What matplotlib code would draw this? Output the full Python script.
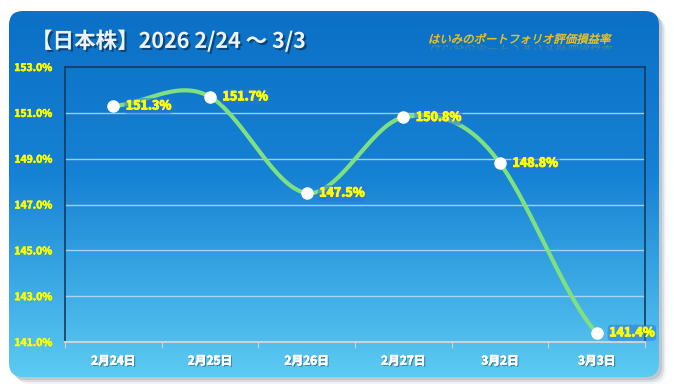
import numpy as np
import matplotlib
matplotlib.use("Agg")
import matplotlib.pyplot as plt
from matplotlib.patches import FancyBboxPatch, PathPatch, Rectangle
from matplotlib.colors import LinearSegmentedColormap
from matplotlib.textpath import TextPath
from matplotlib.font_manager import FontProperties
from matplotlib.transforms import Affine2D
import matplotlib.patheffects as pe

plt.rcParams['font.family'] = ['Noto Sans CJK JP', 'DejaVu Sans']

# data
dates = ["2月24日", "2月25日", "2月26日", "2月27日", "3月2日", "3月3日"]
rates = [151.3, 151.7, 147.5, 150.8, 148.8, 141.4]
y_ticks = [141.0, 143.0, 145.0, 147.0, 149.0, 151.0, 153.0]
title = "【日本株】2026 2/24 ～ 3/3"
subtitle = "はいみのポートフォリオ評価損益率"

W, H = 674, 392
fig = plt.figure(figsize=(W / 100, H / 100), dpi=100)
fig.patch.set_facecolor("white")

# background layer in pixel coords
bg = fig.add_axes([0, 0, 1, 1])
bg.set_xlim(0, W)
bg.set_ylim(H, 0)
bg.axis("off")

px, py, pw, ph = 9, 11, 650, 366
for d, a in [(7, 0.12), (5, 0.22), (3, 0.35)]:
    bg.add_patch(FancyBboxPatch((px + d, py + d), pw, ph,
                                boxstyle="round,pad=0,rounding_size=14",
                                fc="#8c9aa8", ec="none", alpha=a, zorder=0))
panel = FancyBboxPatch((px, py), pw, ph, boxstyle="round,pad=0,rounding_size=14",
                       fc="none", ec="none")
bg.add_patch(panel)
cmap = LinearSegmentedColormap.from_list(
    "bluegrad", [(0, "#0b70c6"), (0.45, "#1682d4"), (1, "#5ccbf2")])
grad = np.linspace(0, 1, 256).reshape(-1, 1)
im = bg.imshow(grad, cmap=cmap, aspect="auto", zorder=1,
               extent=[px, px + pw, py + ph, py], interpolation="bicubic")
im.set_clip_path(panel)

# title
bg.text(31, 41, title, fontsize=15.5, fontweight="bold", color="#eef3f8",
        va="center", ha="left", zorder=3,
        path_effects=[pe.withSimplePatchShadow(offset=(1.5, -1.5),
                                               shadow_rgbFace="#0a3a66", alpha=0.8)])

# italic subtitle with faded reflection
fp = FontProperties(family="Noto Sans CJK JP")
tp = TextPath((0, 0), subtitle, size=11.4, prop=fp)
upright = Affine2D().skew_deg(14, 0) + Affine2D().scale(1, -1).translate(428, 43)
bg.add_patch(PathPatch(upright.transform_path(tp), fc="#f6c418", ec="#f6c418",
                       lw=0.3, zorder=3))
mirror = Affine2D().skew_deg(-14, 0) + Affine2D().scale(1, 0.8).translate(431, 45)
for y0, a in [(45, 0.35), (47, 0.22), (49, 0.1)]:
    rp = bg.add_patch(PathPatch(mirror.transform_path(tp), fc="#f4c21c", ec="none",
                                alpha=a, zorder=3))
    clip = Rectangle((420, y0), 200, 2, transform=bg.transData)
    rp.set_clip_path(clip)

# plot area
ax = fig.add_axes([65 / W, 1 - 342 / H, 580 / W, 275 / H])
ax.set_facecolor("none")
n = len(rates)
xs = np.arange(n) + 0.5

# smooth curve through points (cardinal spline)
ys = np.array(rates)
m = np.zeros(n)
m[1:-1] = (ys[2:] - ys[:-2]) / 2
m[0] = (ys[1] - ys[0]) / 2
m[-1] = (ys[-1] - ys[-2]) / 2
m *= 1.25
cx, cy = [], []
for i in range(n - 1):
    t = np.linspace(0, 1, 40)
    h00 = 2 * t**3 - 3 * t**2 + 1
    h10 = t**3 - 2 * t**2 + t
    h01 = -2 * t**3 + 3 * t**2
    h11 = t**3 - t**2
    cx.extend(xs[i] + t)
    cy.extend(h00 * ys[i] + h10 * m[i] + h01 * ys[i + 1] + h11 * m[i + 1])

ax.plot(cx, cy, color="#7fe07f", lw=3, solid_capstyle="round", zorder=3)
ax.plot(xs, rates, "o", ms=8, mfc="white", mec="white", zorder=4)

thick_y = [pe.withStroke(linewidth=0.7, foreground="#ffff00")]
for x, v in zip(xs, rates):
    ax.annotate(f"{v:.1f}%", (x, v), xytext=(9, 0), textcoords="offset points",
                ha="left", va="center", fontsize=9, fontweight="bold",
                color="#ffff00", zorder=5, path_effects=thick_y,
                bbox=dict(boxstyle="round,pad=0.12,rounding_size=0.3",
                          fc="#2a72e0", ec="none", alpha=0.5))

ax.set_xlim(0, n)
ax.set_ylim(141, 153)
ax.set_yticks(y_ticks)
ax.set_yticklabels([f"{v:.1f}%" for v in y_ticks], fontsize=7.5,
                   fontweight="bold", color="#ffff00")
for lab in ax.get_yticklabels():
    lab.set_path_effects([pe.withStroke(linewidth=0.4, foreground="#ffff00")])
ax.tick_params(axis="y", length=0, pad=9)
for v in y_ticks[1:-1]:
    ax.axhline(v, color="#b6dcf4", lw=1, alpha=0.85, zorder=1)

ax.set_xticks(np.arange(n + 1))
ax.set_xticklabels([])
ax.set_xticks(xs, minor=True)
ax.set_xticklabels(dates, minor=True, fontsize=8.5, fontweight="bold", color="white")
ax.tick_params(axis="x", which="major", length=4, color="#c8d4dc", direction="out")
ax.tick_params(axis="x", which="minor", length=0, pad=9)
for lab in ax.get_xticklabels(minor=True):
    lab.set_path_effects([pe.withSimplePatchShadow(offset=(1, -1),
                                                   shadow_rgbFace="#2a5070", alpha=0.6),
                          pe.withStroke(linewidth=0.4, foreground="white")])

for s in ["left", "top", "right"]:
    ax.spines[s].set_color("#163a60")
    ax.spines[s].set_linewidth(1.2)
ax.spines["bottom"].set_color("#c8d4dc")
ax.spines["bottom"].set_linewidth(1.5)

fig.savefig("out.png", dpi=100)
